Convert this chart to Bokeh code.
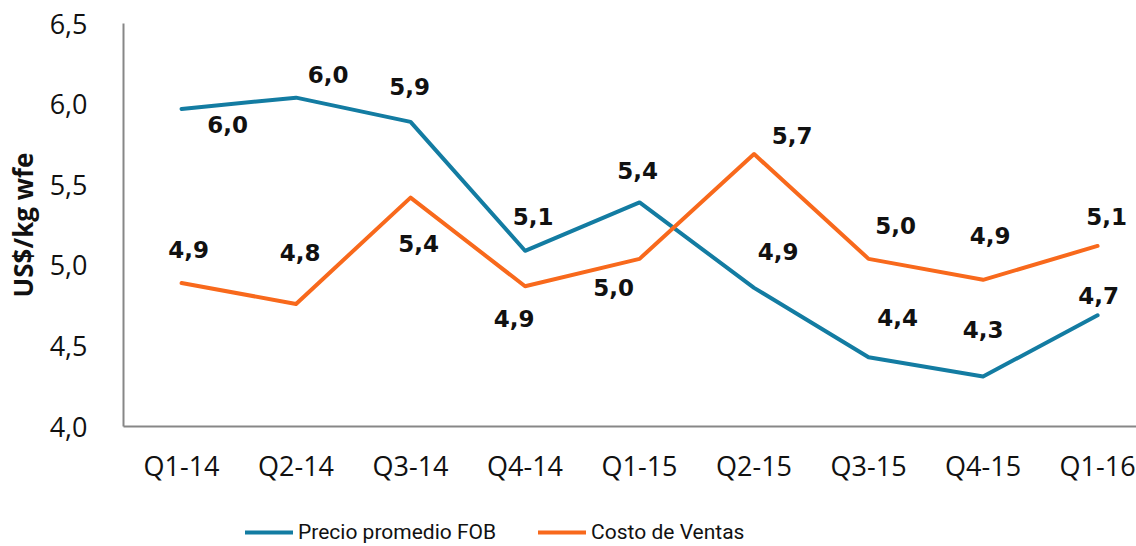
from bokeh.plotting import figure
from bokeh.layouts import column
from bokeh.models import (Range1d, FixedTicker, CustomJSTickFormatter, Legend,
                          LegendItem, ColumnDataSource)
from bokeh.core.properties import value
from bokeh.embed import file_html
from bokeh.resources import INLINE

# ---- data ----
quarters = ["Q1-14", "Q2-14", "Q3-14", "Q4-14", "Q1-15", "Q2-15", "Q3-15", "Q4-15", "Q1-16"]
precio_fob = [5.97, 6.04, 5.89, 5.09, 5.39, 4.86, 4.43, 4.31, 4.69]
costo_ventas = [4.89, 4.76, 5.42, 4.87, 5.04, 5.69, 5.04, 4.91, 5.12]
y_ticks = [4.0, 4.5, 5.0, 5.5, 6.0, 6.5]
series_names = ["Precio promedio FOB", "Costo de Ventas"]

# ---- label placement (pixel offsets from each point) ----
fob_dx = [46, 32, -1, 8, -2, 24, 29, 0, 1]
fob_dy = [16, -23, -35, -34, -32, -36, -40, -47, -20]
costo_dx = [7, 4, 8, -11, -26, 38, 27, 7, 9]
costo_dy = [-34, -51, 46, 32, 29, -19, -33, -44, -29]

BLUE = "#137CA2"
ORANGE = "#F8691C"
AXIS = "#878787"

xs = list(range(len(quarters)))

def fmt(v):
    return f"{v:.1f}".replace(".", ",")

p = figure(width=1136, height=500,
           x_range=Range1d(-0.507, 8.34), y_range=Range1d(4.0, 6.5),
           output_backend="svg", toolbar_location=None,
           min_border_left=123, min_border_right=0,
           min_border_top=23, min_border_bottom=74)
p.outline_line_color = None
p.background_fill_color = "white"
p.border_fill_color = "white"
p.xgrid.visible = False
p.ygrid.visible = False

# axes
p.yaxis.ticker = FixedTicker(ticks=y_ticks)
p.yaxis.formatter = CustomJSTickFormatter(code="return tick.toFixed(1).replace('.', ',');")
p.xaxis.ticker = FixedTicker(ticks=xs)
p.xaxis.formatter = CustomJSTickFormatter(args=dict(cats=quarters),
                                          code="return cats[Math.round(tick)];")
for ax in (p.xaxis[0], p.yaxis[0]):
    ax.axis_line_color = AXIS
    ax.axis_line_width = 2
    ax.major_tick_line_color = None
    ax.minor_tick_line_color = None
    ax.major_label_text_font = "Open Sans"
    ax.major_label_text_font_size = "27px"
    ax.major_label_text_color = "#111111"
p.yaxis.major_label_standoff = 30
p.xaxis.major_label_standoff = 14
p.yaxis.axis_label = "US$/kg wfe"
p.yaxis.axis_label_text_font = "Open Sans"
p.yaxis.axis_label_text_font_style = "bold"
p.yaxis.axis_label_text_font_size = "26px"
p.yaxis.axis_label_text_color = "#111111"
p.yaxis.axis_label_standoff = 6

# lines
p.line(xs, precio_fob, line_color=BLUE, line_width=4, line_join="round", line_cap="round")
p.line(xs, costo_ventas, line_color=ORANGE, line_width=4, line_join="round", line_cap="round")

# data labels
for vals, dx, dy in ((precio_fob, fob_dx, fob_dy), (costo_ventas, costo_dx, costo_dy)):
    src = ColumnDataSource(dict(x=xs, y=vals, t=[fmt(v) for v in vals], dx=dx, dy=dy))
    p.text(x="x", y="y", text="t", x_offset="dx", y_offset="dy", source=src,
           text_font=value("DejaVu Sans"), text_font_style="bold",
           text_font_size="23px", text_align="center", text_baseline="middle",
           text_color="#111111")

# ---- legend strip (separate figure so the legend is not clipped) ----
lg = figure(width=1136, height=46, x_range=Range1d(0, 1), y_range=Range1d(0, 1),
            output_backend="svg", toolbar_location=None,
            x_axis_location=None, y_axis_location=None,
            min_border_left=0, min_border_right=0, min_border_top=0, min_border_bottom=0)
lg.outline_line_color = None
lg.xgrid.visible = False
lg.ygrid.visible = False
# same series, outside the strip's visible range: only their legend swatches show
l1 = lg.line(xs, precio_fob, line_color=BLUE, line_width=4, line_cap="round")
l2 = lg.line(xs, costo_ventas, line_color=ORANGE, line_width=4, line_cap="round")
legend = Legend(items=[LegendItem(label=series_names[0], renderers=[l1]),
                       LegendItem(label=series_names[1], renderers=[l2])],
                location=(122, 1), orientation="horizontal",
                glyph_width=48, glyph_height=26, label_height=26,
                label_standoff=5, spacing=42, padding=0, margin=0,
                border_line_color=None, background_fill_alpha=0,
                label_text_font="Roboto", label_text_baseline="middle",
                label_text_font_size="21px", label_text_color="#111111")
lg.add_layout(legend)

layout = column(p, lg, spacing=0)
open("out.html", "w").write(file_html(layout, INLINE))
